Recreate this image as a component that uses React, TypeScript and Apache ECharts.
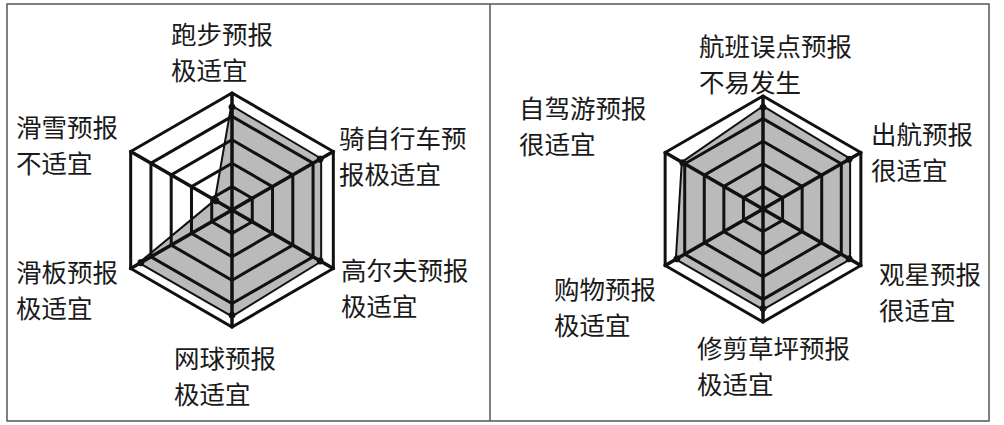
import React, { useEffect, useRef } from "react";
import * as echarts from "echarts";

// Left panel (counter-clockwise from top)
const leftIndicators = ["跑步预报", "滑雪预报", "滑板预报", "网球预报", "高尔夫预报", "骑自行车预报"];
const leftLevels = ["极适宜", "不适宜", "极适宜", "极适宜", "极适宜", "极适宜"];
const leftValues = [4.4, 0.8, 4.5, 4.5, 4.35, 4.35];

// Right panel (counter-clockwise from top)
const rightIndicators = ["航班误点预报", "自驾游预报", "购物预报", "修剪草坪预报", "观星预报", "出航预报"];
const rightLevels = ["不易发生", "很适宜", "极适宜", "极适宜", "很适宜", "很适宜"];
const rightValues = [4.5, 4.1, 4.4, 4.4, 4.4, 4.4];

const MAX = 5;

// label layout: [x, y(center of block), breakAt]
const leftLabelPos: [number, number, number][] = [
  [171, 50, 4],
  [16, 143, 4],
  [16, 288, 4],
  [174, 374, 4],
  [341, 286, 5],
  [339, 154, 5],
];
const rightLabelPos: [number, number, number][] = [
  [699, 62, 6],
  [519, 124, 5],
  [554, 305, 4],
  [697, 364, 6],
  [879, 290, 4],
  [871, 150, 4],
];

const FONT = '"Noto Sans CJK SC", "Noto Sans", sans-serif';

function makeLabels(names: string[], levels: string[], pos: [number, number, number][]) {
  return names.map((n, i) => {
    const full = n + levels[i];
    const b = pos[i][2];
    return {
      type: "text",
      x: pos[i][0],
      y: pos[i][1],
      silent: true,
      style: {
        text: full.slice(0, b) + "\n" + full.slice(b),
        font: `25.5px ${FONT}`,
        lineHeight: 36,
        fill: "#1a1a1a",
        textAlign: "left",
        textVerticalAlign: "middle",
      },
    };
  });
}

function radarCfg(names: string[], center: [number, number], radius: number) {
  return {
    indicator: names.map((n) => ({ name: n, max: MAX, min: 0 })),
    center,
    radius,
    startAngle: 90,
    splitNumber: 5,
    shape: "polygon",
    z: 3,
    axisName: { show: false },
    axisLine: { lineStyle: { color: "#111", width: 3.5 } },
    splitLine: { lineStyle: { color: "#111", width: 3 } },
    splitArea: { show: false },
  };
}

export default function App() {
  const ref = useRef<HTMLDivElement>(null);
  useEffect(() => {
    if (!ref.current) return;
    const chart = echarts.init(ref.current, undefined, { renderer: "svg" });
    const seriesStyle = {
      type: "radar",
      z: 2,
      symbol: "circle",
      symbolSize: 7,
      itemStyle: { color: "#111" },
      lineStyle: { color: "#111", width: 4 },
      areaStyle: { color: "#bababa", opacity: 1 },
    };
    chart.setOption({
      animation: false,
      backgroundColor: "#fff",
      radar: [
        radarCfg(leftIndicators, [232, 210], 117),
        radarCfg(rightIndicators, [763, 209], 113),
      ],
      series: [
        { ...seriesStyle, radarIndex: 0, data: [{ value: leftValues, name: "left" }] },
        { ...seriesStyle, radarIndex: 1, data: [{ value: rightValues, name: "right" }] },
      ],
      graphic: [
        {
          type: "rect",
          silent: true,
          shape: { x: 7, y: 4, width: 982, height: 417 },
          style: { fill: "none", stroke: "#555", lineWidth: 1.5 },
        },
        {
          type: "line",
          silent: true,
          shape: { x1: 490, y1: 4, x2: 490, y2: 421 },
          style: { stroke: "#555", lineWidth: 1.5 },
        },
        ...makeLabels(leftIndicators, leftLevels, leftLabelPos),
        ...makeLabels(rightIndicators, rightLevels, rightLabelPos),
      ],
    });
    return () => chart.dispose();
  }, []);
  return (
    <div
      ref={ref}
      style={{ position: "fixed", left: 0, top: 0, width: 1004, height: 425 }}
    />
  );
}
